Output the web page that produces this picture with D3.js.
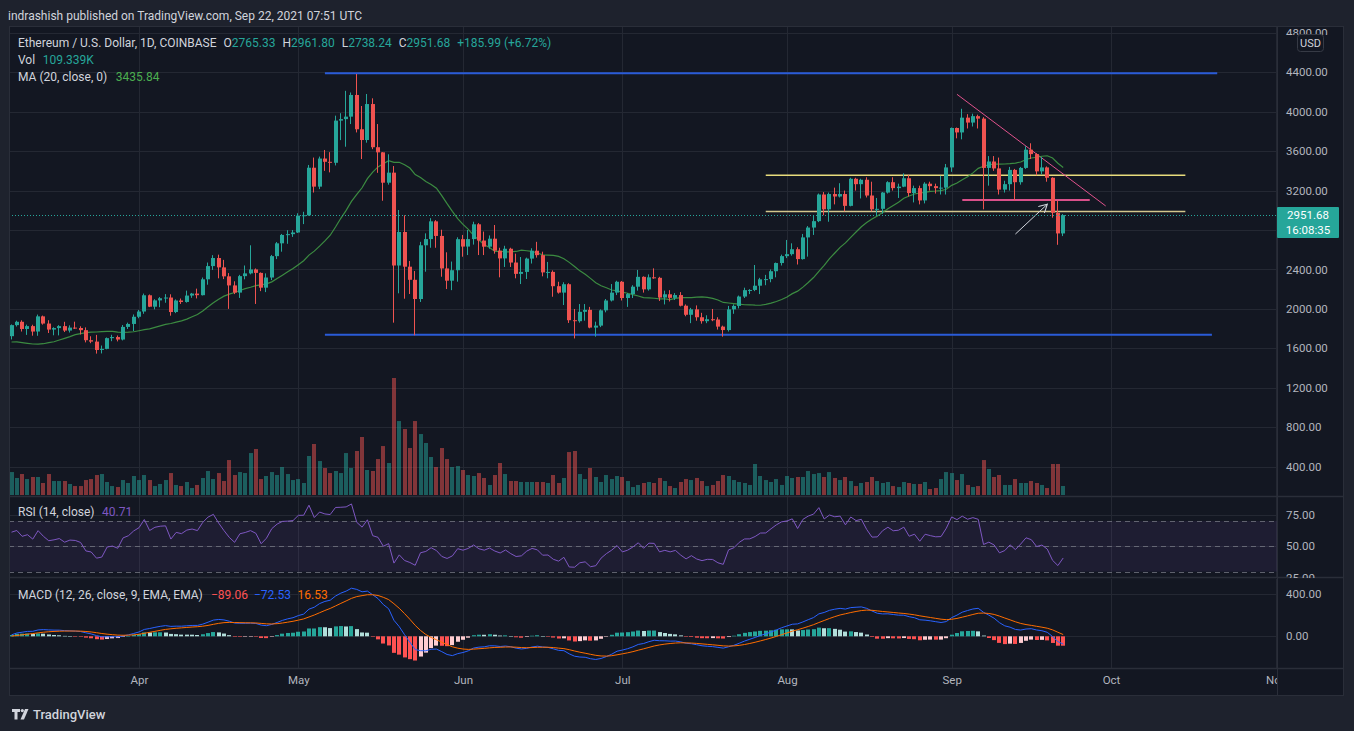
<!DOCTYPE html>
<html><head><meta charset="utf-8">
<script src="https://cdn.jsdelivr.net/npm/d3@7"></script>
<style>
html,body{margin:0;padding:0;background:#1e222d;overflow:hidden;}
svg{display:block;font-family:Roboto,"Liberation Sans",Arial,sans-serif;}
</style></head><body>
<svg id="chart" width="1354" height="731"></svg>
<script>
// ---------------- DATA (ETH/USD daily, Coinbase, 2021-03-08 .. 2021-09-22) ----------------
const firstDay = "2021-03-08";
const lastDay = "2021-09-22";
const opens = [
 1723,1835,1869,1796,1825,1770,1924,1851,1790,1805,1825,1780,1810,1806,1784,1682,1668,1583,1594,1703,1714,1689,1817,1847,
 1920,1973,2138,2022,2086,2108,2115,1968,2085,2070,2135,2155,2139,2300,2434,2516,2421,2330,2238,2165,2332,2360,2400,2365,2215,2318,2535,2665,2750,2758,
 2775,2946,2950,3432,3240,3525,3492,3482,3910,3925,3950,4170,3822,3713,4078,3640,3588,3280,3382,2440,2780,2428,2295,2100,2645,2708,2888,2740,2410,2286,2392,
 2707,2632,2708,2858,2693,2631,2712,2590,2512,2610,2470,2355,2375,2510,2590,2545,2370,2375,2230,2165,2250,1885,1875,1970,1990,1810,1830,1985,2085,2165,
 2275,2110,2150,2225,2325,2198,2320,2315,2115,2148,2112,2140,2032,1940,1995,1915,1875,1895,1892,1820,1785,1995,2030,2125,2190,2192,2235,2300,2302,2382,2465,
 2535,2555,2605,2505,2725,2825,2890,3160,3010,3165,3140,3165,3045,3320,3265,3310,3150,3010,3015,3180,3285,3225,3240,3325,3175,3225,3100,3270,3245,3225,3230,
 3435,3835,3790,3940,3890,3955,3930,3430,3495,3425,3210,3265,3410,3285,3430,3615,3570,3395,3435,3330,2975,2765.33];
const highs = [
 1842,1880,1884,1840,1839,1942,1932,1885,1813,1835,1869,1833,1870,1823,1812,1722,1736,1628,1710,1737,1730,1836,1860,1943,
 1989,2155,2146,2098,2120,2150,2148,2096,2105,2185,2162,2205,2318,2470,2545,2550,2497,2363,2280,2345,2440,2645,2410,2370,2360,2547,2678,2760,2798,2800,
 2970,2985,3460,3535,3545,3612,3590,3960,3985,4212,4195,4383,4058,4180,4136,3875,3590,3568,3449,3003,2949,2486,2384,2680,2766,2920,2900,2803,2574,2480,2726,
 2750,2800,2884,2870,2784,2745,2851,2620,2640,2620,2560,2526,2520,2615,2680,2580,2476,2390,2275,2270,2260,1999,2049,2049,2020,1870,1995,2100,2252,2285,
 2283,2160,2240,2395,2330,2350,2411,2325,2185,2190,2160,2170,2045,2010,2035,1960,1935,1999,1915,1830,2030,2045,2135,2215,2200,2445,2315,2345,2400,2470,2550,
 2699,2665,2625,2760,2840,2945,3170,3185,3180,3230,3275,3200,3330,3330,3320,3335,3290,3125,3185,3295,3335,3270,3375,3360,3250,3250,3285,3290,3270,3350,3470,
 3840,3840,4030,3975,3980,3970,3945,3550,3550,3535,3300,3440,3420,3440,3650,3680,3580,3540,3445,3335,3100,2961.80];
const lows = [
 1690,1821,1770,1736,1728,1727,1840,1755,1732,1731,1765,1760,1796,1740,1660,1652,1546,1548,1590,1672,1670,1680,1796,1775,
 1905,1950,2018,1995,2017,2062,1931,1957,2050,2063,2112,2106,2136,2245,2395,2310,2302,2000,2150,2111,2300,2350,2050,2180,2170,2292,2505,2580,2660,2730,
 2770,2860,2945,3180,3215,3400,3385,3455,3712,3645,3875,3790,3520,3686,3620,3380,3097,3260,1860,2158,2103,2151,1732,2070,2377,2620,2620,2326,2201,2190,2276,
 2529,2546,2652,2546,2546,2610,2560,2320,2425,2425,2310,2252,2303,2460,2520,2330,2310,2123,2155,2039,1857,1700,1860,1880,1803,1718,1815,1965,2075,2140,
 2085,2020,2110,2185,2165,2185,2305,2080,2045,2075,2090,2025,1925,1855,1880,1850,1855,1875,1790,1718,1770,1950,2005,2110,2150,2180,2150,2240,2270,2320,2440,
 2515,2540,2450,2500,2530,2750,2880,2950,2884,3060,3130,2990,3040,3200,3120,3130,2990,2950,2965,3170,3200,3125,3235,3140,3080,3060,3070,3200,3170,3160,3160,
 3390,3730,3720,3830,3850,3830,3010,3250,3400,3160,3180,3200,3100,3260,3420,3520,3355,3365,3290,2925,2650,2738.24];
const closes = [
 1835,1869,1796,1825,1770,1924,1851,1790,1805,1825,1780,1810,1806,1784,1682,1668,1583,1594,1703,1714,1689,1817,1847,1920,
 1973,2138,2022,2086,2108,2115,1968,2085,2070,2135,2155,2139,2300,2434,2516,2421,2330,2238,2165,2332,2360,2400,2365,2215,2318,2535,2665,2750,2758,2775,
 2946,2950,3432,3240,3525,3492,3482,3910,3925,3950,4170,3822,3713,4078,3640,3588,3280,3382,2440,2780,2428,2295,2100,2645,2708,2888,2740,2410,2286,2392,2707,
 2632,2708,2858,2693,2631,2712,2590,2512,2610,2470,2355,2375,2510,2590,2545,2370,2375,2230,2165,2250,1885,1875,1970,1990,1810,1830,1985,2085,2165,2275,
 2110,2150,2225,2325,2198,2320,2315,2115,2148,2112,2140,2032,1940,1995,1915,1875,1895,1892,1820,1785,1995,2030,2125,2190,2192,2235,2300,2302,2382,2465,2535,
 2555,2605,2505,2725,2825,2890,3160,3010,3165,3140,3165,3045,3320,3265,3310,3150,3010,3015,3180,3285,3225,3240,3325,3175,3225,3100,3270,3245,3225,3230,3435,
 3835,3790,3940,3890,3955,3930,3430,3495,3425,3210,3265,3410,3285,3430,3615,3570,3395,3435,3330,2975,2765.33,2951.68];
// volume in thousands of ETH
const volumes = [
 279,207,255,194,219,219,146,255,170,170,170,134,109,109,182,194,243,255,158,109,97,182,146,231,182,243,182,109,134,182,
 267,122,109,158,85,122,207,292,194,267,170,425,243,279,267,510,559,194,231,279,243,340,255,182,194,146,474,620,413,328,
 267,292,267,510,328,535,705,304,292,437,595,389,1422,899,802,571,899,741,632,462,340,571,437,340,352,304,243,231,267,207,
 122,243,389,255,170,170,158,158,158,158,
 158,146,243,146,207,522,535,255,194,328,219,158,243,194,231,219,170,97,122,146,158,146,207,170,109,85,158,194,182,207,
 170,109,122,170,243,231,182,158,146,122,377,231,182,158,194,122,231,207,219,219,292,255,267,219,279,207,182,219,170,109,
 146,158,219,170,146,158,109,97,158,146,134,134,158,73,85,194,279,267,182,255,122,97,109,425,316,219,243,122,122,194,
 146,146,170,146,122,85,377,377,109.339];
// closes before the visible window (2021-01-01 .. 2021-03-07), only used to warm up the indicators
const priorCloses = [
 730,775,980,1042,1100,1208,1225,1224,1282,1264,1090,1045,1130,1219,1172,1232,1253,1256,1375,1382,1121,1234,1233,1392,1323,1360,1250,1332,1383,1379,1315,
 1375,1515,1660,1595,1720,1680,1615,1750,1770,1745,1785,1845,1815,1800,1780,1780,1850,1940,1960,1915,1935,1780,1570,1625,1470,1445,1460,1415,
 1565,1490,1575,1540,1530,1655,1720];
// tick values
const priceTicks = [4800,4400,4000,3600,3200,2800,2400,2000,1600,1200,800,400];
const rsiTicks = [75,50,25];
const rsiBands = [70,50,30];
const macdTicks = [400,0];
const monthTicks = ["2021-04-01","2021-05-01","2021-06-01","2021-07-01","2021-08-01","2021-09-01","2021-10-01","2021-11-01"];
// drawings on the chart (date / price anchored)
const drawings = [
 {d1:"2021-05-06", d2:"2021-10-21", p1:4390, p2:4390, color:"#2a5bd8", w:2},
 {d1:"2021-05-06", d2:"2021-10-20", p1:1738, p2:1738, color:"#2a5bd8", w:2},
 {d1:"2021-07-28", d2:"2021-10-15", p1:3355, p2:3355, color:"#e8dc7c", w:1.5},
 {d1:"2021-07-28", d2:"2021-10-15", p1:2988, p2:2988, color:"#d2c68c", w:1.5},
 {d1:"2021-09-03", d2:"2021-09-27", p1:3104, p2:3104, color:"#d9508a", w:2},
 {d1:"2021-09-02", d2:"2021-09-30", p1:4177, p2:3044, color:"#e0528c", w:1}
];
const arrows = [{d1:"2021-09-13", d2:"2021-09-19", p1:2759, p2:3061, color:"#d1d4dc"}];

// ---------------- SETUP ----------------
const parse = d3.utcParse("%Y-%m-%d");
const days = d3.utcDay.range(parse(firstDay), d3.utcDay.offset(parse(lastDay),1));
const data = days.map((d,i)=>({date:d,o:opens[i],h:highs[i],l:lows[i],c:closes[i],v:volumes[i]}));

// indicators (derived from closes)
const allC = priorCloses.concat(closes), nP = priorCloses.length;
const smaS=(a,n)=>a.map((v,i)=> i<n-1?null:d3.mean(a.slice(i-n+1,i+1)));
const emaS=(a,n)=>{const k=2/(n+1);let p=null;return a.map(v=>p=(p===null?v:k*v+(1-k)*p));};
const rmaS=(a,n)=>{const k=1/n;let p=null;return a.map(v=>p=(p===null?v:k*v+(1-k)*p));};
const maAll = smaS(allC,20);
const chg = allC.map((v,i)=> i===0?0:v-allC[i-1]);
const upR = rmaS(chg.map(c=>Math.max(c,0)),14), dnR = rmaS(chg.map(c=>Math.max(-c,0)),14);
const rsiAll = upR.map((u,i)=> dnR[i]===0?100:100-100/(1+u/dnR[i]));
const e12=emaS(allC,12), e26=emaS(allC,26);
const macdAll=e12.map((v,i)=>v-e26[i]);
const sigAll=emaS(macdAll,9);
const histAll=macdAll.map((m,i)=>m-sigAll[i]);
data.forEach((d,i)=>{const j=i+nP;d.ma=maAll[j];d.rsi=rsiAll[j];d.macd=macdAll[j];d.sig=sigAll[j];d.hist=histAll[j];d.histPrev=histAll[j-1];});

// layout
const L=9, T=26, R=1344, B=696, AX=1277;
const MAIN=[T,496], RSI=[497,578], MACD=[579,668];

const x = d3.scaleUtc().domain([parse("2021-04-01"), parse("2021-10-01")]).range([139,1111]);
const yP = d3.scaleLinear().domain([1600,4400]).range([348.3,72.3]);
const yV = d3.scaleLinear().domain([0,1422]).range([495,378]);
const yR = d3.scaleLinear().domain([30,70]).range([571.6,521]);
const yM = d3.scaleLinear().domain([0,400]).range([636.3,594]);

const UP="#26a69a", DN="#ef5350", GRID="#242833", TXT="#b2b5be", LBL="#d1d4dc";
const svg = d3.select("#chart");
const defs = svg.append("defs");
function clip(id,x0,y0,x1,y1){defs.append("clipPath").attr("id",id).append("rect").attr("x",x0).attr("y",y0).attr("width",x1-x0).attr("height",y1-y0);}
clip("cMain",L,MAIN[0],AX,MAIN[1]); clip("cRsi",L,RSI[0],AX,RSI[1]); clip("cMacd",L,MACD[0],AX,MACD[1]);
clip("cTime",L,668,AX,B); clip("cRsiAx",AX,RSI[0],R,RSI[1]); clip("cMacdAx",AX,MACD[0],R,MACD[1]); clip("cMainAx",AX,T,R,MAIN[1]);

svg.append("rect").attr("width",1354).attr("height",731).attr("fill","#1e222d");
svg.append("rect").attr("x",L).attr("y",T).attr("width",R-L).attr("height",B-T).attr("fill","#131722");

// month gridlines
const months = monthTicks.map(parse);
[MAIN,RSI,MACD].forEach(p=>{
  svg.append("g").selectAll("line").data(months.filter(m=>x(m)<AX)).join("line")
   .attr("x1",d=>Math.round(x(d))+0.5).attr("x2",d=>Math.round(x(d))+0.5).attr("y1",p[0]).attr("y2",p[1])
   .attr("stroke",GRID).attr("stroke-width",1);
});
// price gridlines
svg.append("g").attr("clip-path","url(#cMain)").selectAll("line").data(priceTicks).join("line")
 .attr("x1",L).attr("x2",AX).attr("y1",d=>Math.round(yP(d))+0.5).attr("y2",d=>Math.round(yP(d))+0.5).attr("stroke",GRID);

// main pane
const gMain = svg.append("g").attr("clip-path","url(#cMain)");
const bw = 4;
gMain.append("g").selectAll("rect").data(data).join("rect")
 .attr("x",d=>Math.round(x(d.date)-bw/2)).attr("width",bw)
 .attr("y",d=>yV(d.v)).attr("height",d=>yV(0)-yV(d.v))
 .attr("fill",d=>d.c>=d.o?"rgba(38,166,154,0.5)":"rgba(239,83,80,0.5)");

gMain.append("g").selectAll("line").data(drawings).join("line")
 .attr("x1",d=>x(parse(d.d1))).attr("x2",d=>x(parse(d.d2))).attr("y1",d=>yP(d.p1)).attr("y2",d=>yP(d.p2))
 .attr("stroke",d=>d.color).attr("stroke-width",d=>d.w);

gMain.append("path").datum(data.filter(d=>d.ma!=null))
 .attr("d",d3.line().x(d=>x(d.date)).y(d=>yP(d.ma)))
 .attr("fill","none").attr("stroke","#43a047").attr("stroke-width",1.2).attr("opacity",0.85);

const cg = gMain.append("g").selectAll("g").data(data).join("g");
cg.append("line")
 .attr("x1",d=>Math.round(x(d.date)-bw/2)+1.5).attr("x2",d=>Math.round(x(d.date)-bw/2)+1.5)
 .attr("y1",d=>yP(d.h)).attr("y2",d=>yP(d.l)).attr("stroke",d=>d.c>=d.o?UP:DN).attr("stroke-width",1);
cg.append("rect")
 .attr("x",d=>Math.round(x(d.date)-bw/2)).attr("width",bw)
 .attr("y",d=>yP(Math.max(d.o,d.c))).attr("height",d=>Math.max(1,Math.abs(yP(d.o)-yP(d.c))))
 .attr("fill",d=>d.c>=d.o?UP:DN);

// arrows
defs.append("marker").attr("id","ah").attr("viewBox","0 0 10 10").attr("refX",9).attr("refY",5)
 .attr("markerWidth",9).attr("markerHeight",9).attr("orient","auto")
 .append("path").attr("d","M0,0 L9,5 L0,10").attr("fill","none").attr("stroke","#d1d4dc").attr("stroke-width",1.2);
gMain.append("g").selectAll("line").data(arrows).join("line")
 .attr("x1",d=>x(parse(d.d1))).attr("x2",d=>x(parse(d.d2))).attr("y1",d=>yP(d.p1)).attr("y2",d=>yP(d.p2))
 .attr("stroke",d=>d.color).attr("stroke-width",1).attr("marker-end","url(#ah)");

// last price dotted line
const last = data[data.length-1];
svg.append("line").attr("x1",L).attr("x2",AX).attr("y1",Math.round(yP(last.c))+0.5).attr("y2",Math.round(yP(last.c))+0.5)
 .attr("stroke",UP).attr("stroke-dasharray","1,2");

// RSI pane
const gR = svg.append("g").attr("clip-path","url(#cRsi)");
gR.selectAll("line.g").data(rsiTicks).join("line").attr("class","g")
 .attr("x1",L).attr("x2",AX).attr("y1",d=>Math.round(yR(d))+0.5).attr("y2",d=>Math.round(yR(d))+0.5).attr("stroke",GRID);
gR.append("rect").attr("x",L).attr("width",AX-L).attr("y",yR(70)).attr("height",yR(30)-yR(70)).attr("fill","rgba(126,87,194,0.1)");
gR.selectAll("line.b").data(rsiBands).join("line").attr("class","b")
 .attr("x1",L).attr("x2",AX).attr("y1",d=>Math.round(yR(d))+0.5).attr("y2",d=>Math.round(yR(d))+0.5)
 .attr("stroke","#787b86").attr("stroke-opacity",0.75).attr("stroke-dasharray","5,4");
gR.append("path").datum(data).attr("d",d3.line().x(d=>x(d.date)).y(d=>yR(d.rsi)))
 .attr("fill","none").attr("stroke","#7e57c2").attr("stroke-width",1);

// MACD pane
const gM = svg.append("g").attr("clip-path","url(#cMacd)");
gM.selectAll("line.g").data(macdTicks).join("line").attr("class","g")
 .attr("x1",L).attr("x2",AX).attr("y1",d=>Math.round(yM(d))+0.5).attr("y2",d=>Math.round(yM(d))+0.5).attr("stroke",GRID);
const histColor = d=> d.hist>=0 ? (d.hist>d.histPrev?"#26a69a":"#b2dfdb") : (d.hist>d.histPrev?"#ffcdd2":"#ff5252");
gM.append("g").selectAll("rect").data(data).join("rect")
 .attr("x",d=>Math.round(x(d.date)-bw/2)).attr("width",bw)
 .attr("y",d=>Math.min(yM(0),yM(d.hist))).attr("height",d=>Math.max(0.5,Math.abs(yM(d.hist)-yM(0))))
 .attr("fill",histColor);
gM.append("path").datum(data).attr("d",d3.line().x(d=>x(d.date)).y(d=>yM(d.macd)))
 .attr("fill","none").attr("stroke","#2962ff").attr("stroke-width",1);
gM.append("path").datum(data).attr("d",d3.line().x(d=>x(d.date)).y(d=>yM(d.sig)))
 .attr("fill","none").attr("stroke","#ff6d00").attr("stroke-width",1);

// separators and frame
[496.5,577.5,668.5].forEach(yy=>svg.append("line").attr("x1",L).attr("x2",R).attr("y1",yy).attr("y2",yy).attr("stroke","#2a2e39").attr("stroke-width",1.5));
svg.append("line").attr("x1",AX+0.5).attr("x2",AX+0.5).attr("y1",T).attr("y2",B).attr("stroke","#2a2e39");
svg.append("rect").attr("x",L+0.5).attr("y",T+0.5).attr("width",R-L-1).attr("height",B-T-1).attr("fill","none").attr("stroke","#2a2e39");

// axes
function styleAxis(g,size){g.attr("font-family",null).attr("font-size",null);g.select(".domain").remove();
  g.selectAll("text").attr("fill",TXT).style("font-size",size+"px");}
svg.append("g").attr("clip-path","url(#cMainAx)").append("g").attr("transform",`translate(${AX},0)`)
 .call(d3.axisRight(yP).tickValues(priceTicks).tickFormat(d3.format(".2f")).tickSize(0).tickPadding(9)).call(g=>styleAxis(g,11.5));
svg.append("g").attr("clip-path","url(#cRsiAx)").append("g").attr("transform",`translate(${AX},0)`)
 .call(d3.axisRight(yR).tickValues(rsiTicks).tickFormat(d3.format(".2f")).tickSize(0).tickPadding(9)).call(g=>styleAxis(g,11.5));
svg.append("g").attr("clip-path","url(#cMacdAx)").append("g").attr("transform",`translate(${AX},0)`)
 .call(d3.axisRight(yM).tickValues(macdTicks).tickFormat(d3.format(".2f")).tickSize(0).tickPadding(9)).call(g=>styleAxis(g,11.5));
svg.append("g").attr("clip-path","url(#cTime)").append("g").attr("transform","translate(0,676)")
 .call(d3.axisBottom(x).tickValues(months).tickFormat(d3.utcFormat("%b")).tickSize(0).tickPadding(0)).call(g=>styleAxis(g,11.5));

// USD badge (covers the lower part of the top price label, as in the reference)
svg.append("rect").attr("x",AX+1).attr("y",35).attr("width",R-AX-2).attr("height",17).attr("fill","#131722");
svg.append("rect").attr("x",1297.5).attr("y",34.5).attr("width",26).attr("height",17).attr("rx",3)
 .attr("fill","#131722").attr("stroke","#363a45");
svg.append("text").attr("x",1310.5).attr("y",43).attr("dy","0.35em").attr("text-anchor","middle")
 .attr("fill",LBL).style("font-size","11px").text("USD");

// last price label
const ly = yP(last.c);
svg.append("rect").attr("x",AX).attr("y",ly-8).attr("width",62).attr("height",31).attr("rx",1).attr("fill",UP);
svg.append("text").attr("x",AX+31).attr("y",ly).attr("dy","0.35em").attr("text-anchor","middle").attr("fill","#ffffff").style("font-size","11.5px").text(d3.format(".2f")(last.c));
svg.append("text").attr("x",AX+31).attr("y",ly+15).attr("dy","0.35em").attr("text-anchor","middle").attr("fill","#ffffff").style("font-size","11.5px").text("16:08:35");

// legends
function legend(parts,yy){parts.forEach(p=>svg.append("text").attr("x",p[0]).attr("y",yy).attr("dy","0.35em")
  .attr("fill",p[2]).style("font-size",(p[3]||12)+"px").text(p[1]));}
const ohlcLegend = [["O","2765.33"],["H","2961.80"],["L","2738.24"],["C","2951.68"],["","+185.99 (+6.72%)"]];
const t1 = svg.append("text").attr("x",18).attr("y",43).attr("dy","0.35em").style("font-size","12px");
t1.append("tspan").attr("fill",LBL).text("Ethereum / U.S. Dollar, 1D, COINBASE");
ohlcLegend.forEach(p=>{
  if(p[0]) t1.append("tspan").attr("dx",7).attr("fill",LBL).text(p[0]);
  t1.append("tspan").attr("dx",p[0]?0:7).attr("fill",UP).text(p[1]); });
legend([[18,"Vol",LBL],[42.7,"109.339K",UP]],60);
legend([[18,"MA (20, close, 0)",LBL],[115.8,"3435.84","#4caf50"]],77);
legend([[18,"RSI (14, close)",LBL],[102,"40.71","#7e57c2"]],511.5);
legend([[18,"MACD (12, 26, close, 9, EMA, EMA)",LBL],[211,"\u221289.06","#ff5252"],[254,"\u221272.53","#2962ff"],[297.6,"16.53","#ff6d00"]],594.3);

// header and footer
svg.append("text").attr("x",8).attr("y",15.5).attr("dy","0.35em").attr("fill",LBL).style("font-size","12px")
 .text("indrashish published on TradingView.com, Sep 22, 2021 07:51 UTC");
const logo = svg.append("g").attr("fill","#d1d4dc");
logo.append("path").attr("d","M12,709 h8 v3 h-2.5 v7.5 h-3 v-7.5 h-2.5 z");
logo.append("circle").attr("cx",22.3).attr("cy",710.6).attr("r",1.6);
logo.append("path").attr("d","M25,709 h3.5 l-4.5,10.5 h-3.5 z");
svg.append("text").attr("x",33).attr("y",714).attr("dy","0.35em").attr("fill",LBL).style("font-size","13px").style("font-weight","500").text("TradingView");
</script>
</body></html>
